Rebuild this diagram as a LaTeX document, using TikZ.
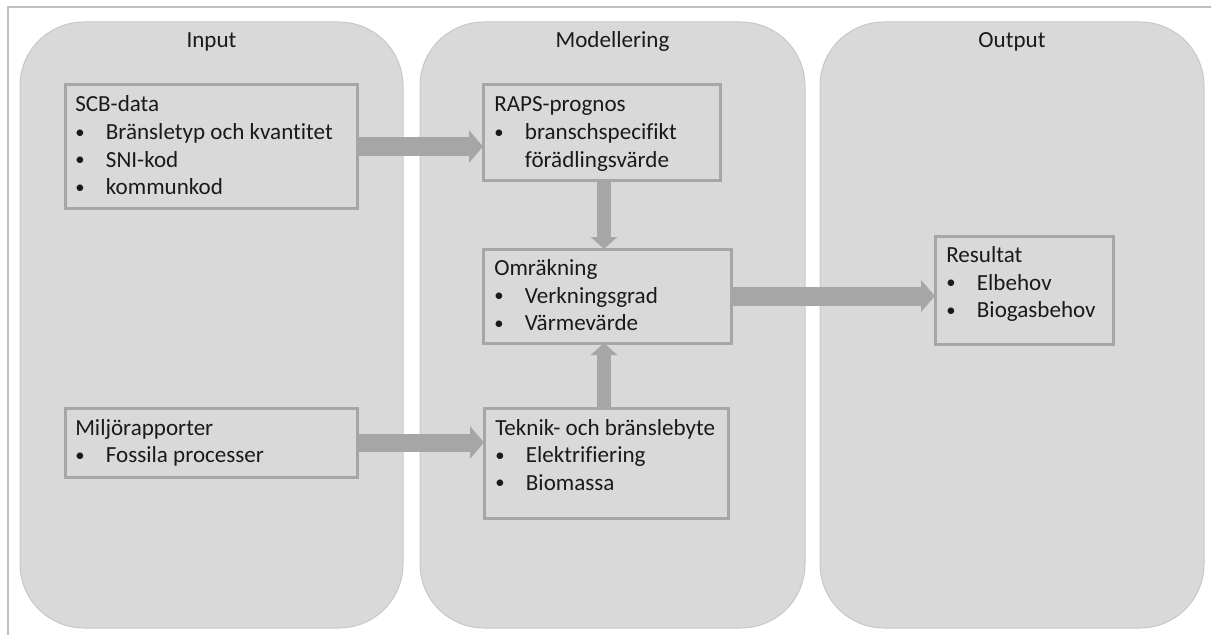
\documentclass[tikz,border=0pt]{standalone}
\usepackage{fontspec}
\setmainfont{Carlito}[Ligatures={NoCommon}]
\usetikzlibrary{arrows.meta,calc}
\definecolor{panelfill}{HTML}{D9D9D9}
\definecolor{paneldraw}{HTML}{C8C8C8}
\definecolor{boxline}{HTML}{A6A6A6}
\definecolor{arrowc}{HTML}{A6A6A6}
\definecolor{framec}{HTML}{BFBFBF}
\definecolor{txtc}{HTML}{1A1A1A}
\newcommand{\bul}{\makebox[23pt][l]{\raisebox{0.8pt}{\fontsize{14pt}{14pt}\selectfont\textbullet}}}
\begin{document}
\begin{tikzpicture}[x=0.75pt,y=-0.75pt,
  panel/.style={draw=paneldraw, fill=panelfill, line width=0.75pt, rounded corners=48pt, inner sep=0pt, outer sep=0pt, anchor=north west, minimum height=454.5pt},
  box/.style={draw=boxline, line width=2.25pt, inner sep=0pt, outer sep=0pt, anchor=north west},
  txt/.style={anchor=base west, inner sep=0pt, text=txtc, font=\fontsize{17.3pt}{20pt}\selectfont},
  ttl/.style={anchor=base, inner sep=0pt, text=txtc, font=\fontsize{17.3pt}{20pt}\selectfont},
  harrow/.style={draw=arrowc, line width=13.5pt, -{Triangle[width=24pt,length=10.5pt]}},
  bigharrow/.style={draw=arrowc, line width=14.25pt, -{Triangle[width=23.5pt,length=10.5pt]}},
  varrow/.style={draw=arrowc, line width=10.5pt, -{Triangle[width=19.5pt,length=9pt]}}
]
\useasboundingbox (0,0) rectangle (1211,635);
\draw[framec, line width=1.5pt] (8,635) -- (8,7) -- (1211,7);

% panels
\node[panel, minimum width=287.25pt] (pin) at (20,22) {};
\node[panel, minimum width=288.75pt] (pmod) at (420,22) {};
\node[panel, minimum width=288pt] (pout) at (820,22) {};
\node[ttl] (tin) at ($(pin.north)+(0,26)$) {Input};
\node[ttl] (tmod) at ($(pmod.north)+(0,26)$) {Modellering};
\node[ttl] (tout) at ($(pout.north)+(0,26)$) {Output};

% boxes
\node[box, minimum width=219pt, minimum height=92.25pt] (scb) at (65,85) {};
\node[box, minimum width=177.75pt, minimum height=71.25pt] (raps) at (483,85) {};
\node[box, minimum width=186pt, minimum height=70.5pt] (omr) at (483,249) {};
\node[box, minimum width=133.5pt, minimum height=81pt] (res) at (935,236) {};
\node[box, minimum width=219pt, minimum height=51.75pt] (milj) at (65,408) {};
\node[box, minimum width=183pt, minimum height=82.5pt] (tek) at (484,408) {};

% texts
\node[txt] (scb0) at ($(scb.north west)+(10,27)$) {SCB-data};
\node[txt] (scb1) at ($(scb.north west)+(10,54.5)$) {\bul Bränsletyp och kvantitet};
\node[txt] (scb2) at ($(scb.north west)+(10,82)$) {\bul SNI-kod};
\node[txt] (scb3) at ($(scb.north west)+(10,109.5)$) {\bul kommunkod};

\node[txt] (raps0) at ($(raps.north west)+(11,27)$) {RAPS-prognos};
\node[txt] (raps1) at ($(raps.north west)+(11,54.5)$) {\bul branschspecifikt};
\node[txt] (raps2) at ($(raps.north west)+(11,82)$) {\hspace*{23pt}förädlingsvärde};

\node[txt] (omr0) at ($(omr.north west)+(11,26.5)$) {Omräkning};
\node[txt] (omr1) at ($(omr.north west)+(11,54)$) {\bul Verkningsgrad};
\node[txt] (omr2) at ($(omr.north west)+(11,81.5)$) {\bul Värmevärde};

\node[txt] (res0) at ($(res.north west)+(11,26.5)$) {Resultat};
\node[txt] (res1) at ($(res.north west)+(11,54)$) {\bul Elbehov};
\node[txt] (res2) at ($(res.north west)+(11,81.5)$) {\bul Biogasbehov};

\node[txt] (milj0) at ($(milj.north west)+(10,27)$) {Miljörapporter};
\node[txt] (milj1) at ($(milj.north west)+(10,54.5)$) {\bul Fossila processer};

\node[txt] (tek0) at ($(tek.north west)+(11,27)$) {Teknik- och bränslebyte};
\node[txt] (tek1) at ($(tek.north west)+(11,54.5)$) {\bul Elektrifiering};
\node[txt] (tek2) at ($(tek.north west)+(11,82)$) {\bul Biomassa};

% arrows
\draw[harrow] (scb.east) -- (scb.east -| raps.west);
\draw[harrow] (milj.east) -- (milj.east -| tek.west);
\draw[bigharrow] (omr.east) -- (omr.east -| res.west);
\coordinate (vx) at ($(raps.south)+(2.5,0)$);
\draw[varrow] (vx) -- (vx |- omr.north);
\coordinate (vy) at ($(tek.north)+(-2,0)$);
\draw[varrow] (vy) -- (vy |- omr.south);
\end{tikzpicture}
\end{document}
